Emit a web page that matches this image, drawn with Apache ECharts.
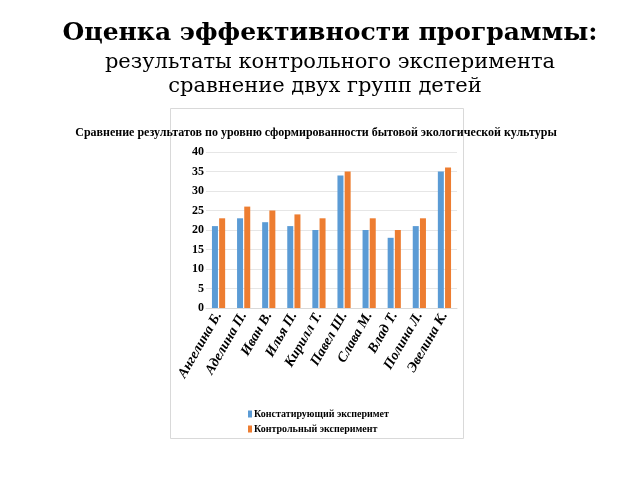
<!DOCTYPE html>
<html><head><meta charset="utf-8">
<script src="https://cdn.jsdelivr.net/npm/echarts@6/dist/echarts.min.js"></script>
<style>html,body{margin:0;padding:0;background:#fff}#c{width:640px;height:480px}</style>
</head><body><div id="c"></div>
<script>
const categories = ['Ангелина Б.','Аделина П.','Иван В.','Илья П.','Кирилл Т.','Павел Ш.','Слава М.','Влад Т.','Полина Л.','Эвелина К.'];
const ascertaining = [21,23,22,21,20,34,20,18,21,35];
const control = [23,26,25,24,23,35,23,20,23,36];
const seriesNames = ['Констатирующий эксперимет','Контрольный эксперимент'];
const yTicks = {min:0, max:40, interval:5};

const chart = echarts.init(document.getElementById('c'));
const serif = "Liberation Serif";
const headSerif = "DejaVu Serif, Liberation Serif, serif";
chart.setOption({
  backgroundColor:'#fff',
  animation:false,
  graphic:[
    {type:'rect', shape:{x:170.5,y:108.5,width:293,height:330}, style:{fill:'none',stroke:'#d9d9d9',lineWidth:1}, z:-1},
    {type:'text', style:{text:'Оценка эффективности программы:', x:330, y:33, align:'center', verticalAlign:'middle', fontFamily:headSerif, fontWeight:'bold', fontSize:25, fill:'#000'}},
    {type:'text', style:{text:'результаты контрольного эксперимента', x:330, y:63, align:'center', verticalAlign:'middle', fontFamily:headSerif, fontSize:21, fill:'#000'}},
    {type:'text', style:{text:'сравнение двух групп детей', x:325, y:87, align:'center', verticalAlign:'middle', fontFamily:headSerif, fontSize:21, fill:'#000'}},
    {type:'text', style:{text:'Сравнение результатов по уровню сформированности бытовой экологической культуры', x:316, y:133, align:'center', verticalAlign:'middle', fontFamily:serif, fontWeight:'bold', fontSize:12, fill:'#000'}}
  ],
  legend:{
    orient:'vertical', left:243, top:404, itemWidth:4, itemHeight:7, itemGap:5,
    icon:'rect',
    textStyle:{fontFamily:serif, fontWeight:'bold', fontSize:10, color:'#000', padding:[0,0,0,-3]},
    data:seriesNames
  },
  grid:{left:206, right:183, top:152, bottom:172, containLabel:false},
  xAxis:{
    type:'category', data:categories,
    axisLine:{lineStyle:{color:'#d9d9d9'}},
    axisTick:{show:false},
    axisLabel:{rotate:60, interval:0, fontFamily:serif, fontWeight:'bold', fontStyle:'italic', fontSize:14, color:'#000', margin:5}
  },
  yAxis:{
    type:'value', min:yTicks.min, max:yTicks.max, interval:yTicks.interval,
    axisLine:{show:false}, axisTick:{show:false},
    splitLine:{lineStyle:{color:'#e6e6e6'}},
    axisLabel:{fontFamily:serif, fontWeight:'bold', fontSize:12, color:'#000', margin:2}
  },
  series:[
    {name:seriesNames[0], type:'bar', data:ascertaining, barWidth:6, barGap:'20%', itemStyle:{color:'#5B9BD5'}},
    {name:seriesNames[1], type:'bar', data:control, barWidth:6, itemStyle:{color:'#ED7D31'}}
  ]
});
</script></body></html>
